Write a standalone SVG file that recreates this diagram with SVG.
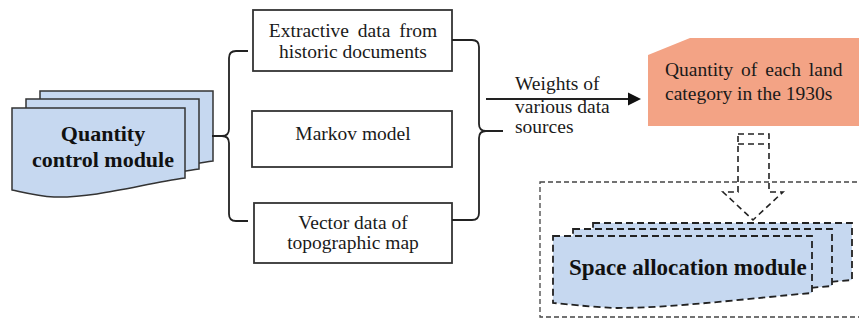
<svg xmlns="http://www.w3.org/2000/svg" width="859" height="321" viewBox="0 0 859 321">
<defs>
<path id="qdoc" d="M0,0 L173,0 L173,70 C130,76 85,90 42,89 C25,88 10,84 0,82 Z" fill="#c6d8f0" stroke="#333" stroke-width="1.5"/>
<path id="sdoc" d="M0,0 L259,0 L259,57 C200,62 120,72 64,72 C35,71 15,68 0,67 Z" fill="#c6d8f0" stroke="#222" stroke-width="1.8" stroke-dasharray="7 4"/>
</defs>
<g id="quantity-control-module">
<use href="#qdoc" x="40" y="91"/>
<use href="#qdoc" x="26" y="99"/>
<use href="#qdoc" x="12" y="108"/>
<text font-family="Liberation Serif, serif" font-weight="bold" font-size="22" fill="#111" text-anchor="middle" x="103" y="141">Quantity</text>
<text font-family="Liberation Serif, serif" font-weight="bold" font-size="22" fill="#111" text-anchor="middle" x="103" y="167">control module</text>
</g>
<g id="extractive-data">
<rect x="253" y="10" width="199" height="61" fill="#fff" stroke="#333" stroke-width="1.8"/>
<text font-family="Liberation Serif, serif" font-size="19.5" fill="#1a1a1a" text-anchor="middle" x="353" y="37" word-spacing="4">Extractive data from</text>
<text font-family="Liberation Serif, serif" font-size="19.5" fill="#1a1a1a" text-anchor="middle" x="353" y="58">historic documents</text>
</g>
<g id="markov-model">
<rect x="252" y="111" width="200" height="56" fill="#fff" stroke="#333" stroke-width="1.8"/>
<text font-family="Liberation Serif, serif" font-size="19.5" fill="#1a1a1a" text-anchor="middle" x="353" y="140">Markov model</text>
</g>
<g id="vector-data">
<rect x="254" y="203" width="198" height="60" fill="#fff" stroke="#333" stroke-width="1.8"/>
<text font-family="Liberation Serif, serif" font-size="19.5" fill="#1a1a1a" text-anchor="middle" x="353" y="229">Vector data of</text>
<text font-family="Liberation Serif, serif" font-size="19.5" fill="#1a1a1a" text-anchor="middle" x="353" y="249">topographic map</text>
</g>
<g id="land-quantity">
<path d="M690,38 L859,38 L859,126 L648,126 L648,55 Z" fill="#f3a385"/>
<text font-family="Liberation Serif, serif" font-size="19.5" fill="#1a1a1a" x="665" y="76" word-spacing="3">Quantity of each land</text>
<text font-family="Liberation Serif, serif" font-size="19.5" fill="#1a1a1a" x="665" y="100">category in the 1930s</text>
</g>
<g id="space-allocation">
<rect x="540" y="182" width="330" height="135" fill="none" stroke="#444" stroke-width="1.3" stroke-dasharray="5 3"/>
<use href="#sdoc" x="593" y="223"/>
<use href="#sdoc" x="573" y="229"/>
<use href="#sdoc" x="553" y="236"/>
<text font-family="Liberation Serif, serif" font-weight="bold" font-size="23" fill="#111" x="569" y="275">Space allocation module</text>
</g>
<g id="connectors" fill="none" stroke="#222" stroke-width="1.8">
<path d="M248,51 L236,51 Q229,51 229,58 L229,129 Q229,136 222,136 L212,136 M222,136 Q229,136 229,143 L229,214 Q229,221 236,221 L248,221"/>
<path d="M452,40 L472,40 Q479,40 479,47 L479,124 Q479,131 486,131 L503,131 M486,131 Q479,131 479,138 L479,213 Q479,220 472,220 L452,220"/>
<line x1="486" y1="99" x2="629" y2="99"/>
<polygon points="628,92.5 641,99 628,105.5" fill="#111" stroke="none"/>
<path d="M738,134 L769,134 L769,192 L783,192 L753,220 L723,192 L738,192 Z M738,144 L769,144" stroke-width="1.6" stroke-dasharray="6 4"/>
<text font-family="Liberation Serif, serif" font-size="19.5" fill="#1a1a1a" stroke="none" x="515" y="90">Weights of</text>
<text font-family="Liberation Serif, serif" font-size="19.5" fill="#1a1a1a" stroke="none" x="515" y="113">various data</text>
<text font-family="Liberation Serif, serif" font-size="19.5" fill="#1a1a1a" stroke="none" x="515" y="133">sources</text>
</g>
</svg>
